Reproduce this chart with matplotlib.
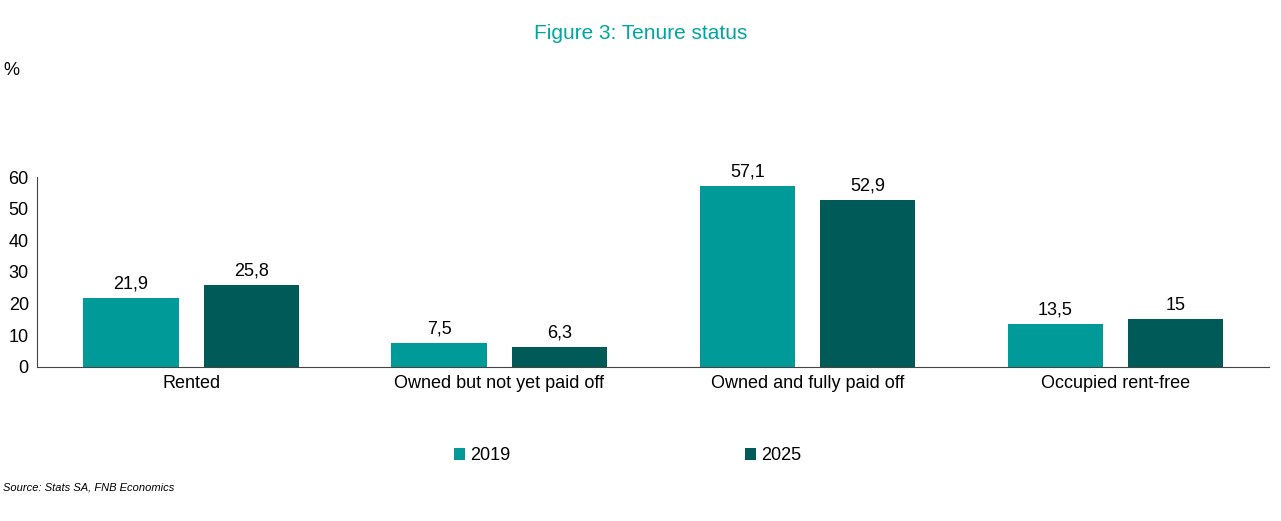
import matplotlib.pyplot as plt
import numpy as np

categories = ["Rented", "Owned but not yet paid off", "Owned and fully paid off", "Occupied rent-free"]
values_2019 = [21.9, 7.5, 57.1, 13.5]
values_2025 = [25.8, 6.3, 52.9, 15]
labels_2019 = ["21,9", "7,5", "57,1", "13,5"]
labels_2025 = ["25,8", "6,3", "52,9", "15"]

c2019 = "#009b98"
c2025 = "#005a58"

plt.rcParams['font.family'] = ['Liberation Sans', 'DejaVu Sans']
fig = plt.figure(figsize=(12.81, 5.21), dpi=100)
ax = fig.add_axes([0.029, 0.296, 0.962, 0.364])

x = np.arange(len(categories))
w = 0.31
b1 = ax.bar(x - 0.195, values_2019, w, color=c2019, label="2019")
b2 = ax.bar(x + 0.195, values_2025, w, color=c2025, label="2025")
ax.bar_label(b1, labels=labels_2019, padding=4, fontsize=13)
ax.bar_label(b2, labels=labels_2025, padding=4, fontsize=13)

ax.set_xlim(-0.5, 3.5)
ax.set_ylim(0, 60)
ax.set_yticks(range(0, 61, 10))
ax.set_xticks(x)
ax.set_xticklabels(categories, fontsize=13)
ax.tick_params(axis='y', labelsize=13, length=0, pad=6)
ax.tick_params(axis='x', length=0, pad=6)
for s in ['top', 'right']:
    ax.spines[s].set_visible(False)
ax.spines['left'].set_color('#444444')
ax.spines['bottom'].set_color('#444444')

fig.text(0.5, 0.935, "Figure 3: Tenure status", ha='center', va='center', fontsize=15, color="#00a59f")
fig.text(0.003, 0.865, "%", fontsize=13, va='center')

leg = fig.legend(handles=[b1, b2], loc='center', bbox_to_anchor=(0.49, 0.125), ncol=2,
                 frameon=False, fontsize=13, handlelength=0.6, handleheight=0.6,
                 columnspacing=13, handletextpad=0.3)
fig.text(0.002, 0.065, "Source: Stats SA, FNB Economics", fontsize=8, style='italic', va='center')

fig.savefig("out.png", dpi=100)
